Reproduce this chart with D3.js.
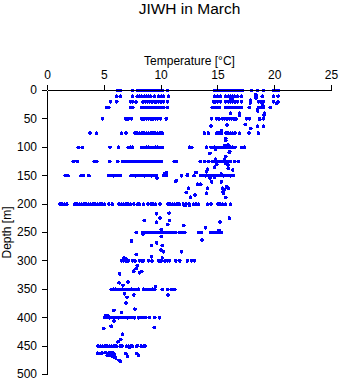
<!DOCTYPE html>
<html><head><meta charset="utf-8">
<script src="https://cdn.jsdelivr.net/npm/d3@7"></script>
<style>
body{margin:0;background:#fff;}
svg{display:block;font-family:"Liberation Sans",Arial,Helvetica,sans-serif;}
</style></head><body>
<svg id="chart" width="341" height="384"></svg>
<script>
const chartTitle = "JIWH in March";
const xLabel = "Temperature [°C]";
const yLabel = "Depth [m]";
const xTicks = [0, 5, 10, 15, 20, 25];
const yTicks = [0, 50, 100, 150, 200, 250, 300, 350, 400, 450, 500];

// standard sampling depths (m)
const depthLevels = [0, 10, 20, 30, 50, 75, 100, 125, 150, 200, 250, 300, 350, 400, 450];
// temperatures observed at each standard depth (°C)
const tempsAt0 = [6.2,6.4,7.5,7.9,8.1,8.3,8.5,8.7,8.9,9.1,9.3,9.5,9.7,9.9,10.1,10.6,14.7,14.9,15.1,15.3,15.5,15.7,15.9,16.1,16.3,16.5,16.7,16.9,17.2,18.0,18.45,19.0,19.9,20.1,20.3];
const tempsAt10 = [6.1,6.4,7.5,7.9,8.1,8.3,8.5,8.7,8.9,9.1,9.4,9.8,10.0,10.2,10.65,14.7,15.0,15.2,15.7,15.9,16.1,16.3,16.5,16.7,17.05,18.35,18.9,19.9,20.3];
const tempsAt20 = [5.55,6.1,7.3,7.5,7.8,8.4,8.6,8.8,9.0,9.2,9.4,9.55,9.8,10.0,10.2,10.55,14.6,14.75,15.0,15.2,15.7,15.9,16.1,16.3,16.5,16.7,17.1,17.85,18.6,18.8,19.0,19.9,20.3];
const tempsAt30 = [5.2,5.4,7.3,7.5,8.3,8.5,8.7,8.9,9.1,9.3,9.5,9.7,9.9,10.1,10.25,10.55,14.5,14.7,14.9,15.1,15.7,15.9,16.1,16.3,16.5,16.7,16.9,17.05,17.75,18.6,18.8,19.0,19.6];
const tempsAt50 = [4.85,6.9,7.1,7.4,8.3,8.5,8.7,8.9,9.1,9.3,9.5,9.7,9.95,10.45,14.45,14.9,15.1,15.4,15.6,15.8,16.0,16.2,16.4,16.6,17.5,17.8,18.65,19.0];
const tempsAt75 = [3.75,4.3,6.5,6.9,7.7,7.9,8.1,8.3,8.5,8.7,8.9,9.1,9.3,9.45,9.7,9.9,10.1,13.8,14.15,14.9,15.1,15.3,15.7,15.9,16.1,16.3,16.5,16.9,17.75,18.55];
const tempsAt100 = [2.7,3.05,5.5,6.25,7.1,7.3,7.5,8.3,8.5,8.7,8.9,9.1,9.3,9.5,9.7,9.9,10.1,12.5,12.7,14.0,14.4,14.7,14.9,15.1,15.3,15.5,15.7,15.9,16.1,16.3,16.5,17.1,17.35];
const tempsAt125 = [2.25,2.6,4.1,4.35,5.5,6.2,6.6,6.8,7.0,7.2,7.4,7.6,7.8,8.0,8.2,8.4,8.6,8.8,9.0,9.2,9.4,9.6,9.8,10.0,11.15,11.35,13.45,13.85,14.15,14.5,14.7,14.9,15.1,15.3,15.5,15.7,15.9,16.1,16.45,16.8];
const tempsAt150 = [1.55,1.8,2.95,3.15,3.65,5.4,5.6,5.8,6.0,6.2,6.4,7.35,7.55,7.75,7.95,8.15,8.35,8.55,8.75,8.95,9.15,9.35,9.6,10.2,10.45,11.8,12.3,12.9,13.5,13.7,13.9,14.1,14.3,14.5,14.7,14.9,15.1,15.3,15.5,15.7,15.9,16.1,16.35];
const tempsAt200 = [1.1,1.3,1.5,1.7,2.4,2.6,2.8,3.0,3.2,3.4,3.6,3.8,4.0,4.2,4.4,4.6,4.8,5.0,5.4,5.7,6.3,6.5,6.7,6.9,7.1,7.3,7.6,7.95,8.1,8.45,8.85,9.1,9.3,9.5,9.9,10.6,10.8,11.0,11.2,11.4,11.6,11.95,12.2,12.45,12.85,13.05,13.3,14.1,14.4,15.0,15.2,15.4,15.65,16.1];
const tempsAt250 = [7.8,8.4,8.6,8.8,9.0,9.2,9.4,9.6,9.8,10.0,10.2,10.4,10.6,10.8,11.1,11.3,11.6,11.8,12.1,13.3,13.55,14.35,14.6,14.85,15.1,15.3];
const tempsAt300 = [6.5,6.7,6.9,7.1,7.5,7.7,8.1,8.3,8.45,8.9,9.2,9.8,10.0,10.35,10.55,10.75,11.3,11.65,12.3,12.7,12.95];
const tempsAt350 = [5.6,5.8,6.0,6.2,6.4,6.6,6.8,7.0,7.2,7.4,7.6,7.8,8.0,8.45,8.65,8.85,9.05,9.25,9.45,10.1,10.6,10.95,11.2];
const tempsAt400 = [5.05,5.25,5.45,5.65,5.85,6.05,6.25,6.45,6.65,6.85,7.05,7.25,7.45,7.65,8.0,8.2,8.4,8.6,8.95,9.45,9.85];
const tempsAt450 = [4.45,4.65,4.85,5.05,5.25,5.45,5.65,5.85,6.05,6.4,6.55,6.95,7.15,7.35,7.5,7.85,8.25,8.45,8.6];
const tempsByLevel = [tempsAt0, tempsAt10, tempsAt20, tempsAt30, tempsAt50, tempsAt75, tempsAt100, tempsAt125, tempsAt150, tempsAt200, tempsAt250, tempsAt300, tempsAt350, tempsAt400, tempsAt450];

// observations at non-standard depths: [temperature °C, depth m]
const scatterPoints = [
  [16.1,13.5],[16.3,13.5],[18.35,7],[18.35,13],
  [17.85,17],[17.85,22],[18.95,24],[20.2,23],
  [18.95,26],[18.5,33],
  [16.1,40],[16.9,40],[16.9,44],[19.1,40],[18.5,36],[19.05,43],
  [14.4,62.6],[15.8,61],[17.4,59.6],[17.9,67],[18.5,63],[19.0,63],[18.7,51],
  [15.3,71],[15.7,85],
  [15.7,88],[15.9,96],[15.6,97],[14.8,104],[16.05,107.7],[14.3,110.5],[16.0,109],[15.7,116],
  [14.8,121],[14.9,130],[15.6,122],[15.7,128],[15.9,131],[14.7,135],[15.9,137],[14.1,138.6],[16.3,140],[13.1,144.5],[14.0,143],
  [9.65,154],[10.3,146],[10.5,145],[11.3,160],[13.05,144],[12.3,148.6],[14.7,153],[15.3,147],[14.3,154],
  [13.2,165],[13.5,165],[14.45,161],[15.3,161],[15.75,169],[15.9,172],[15.45,178],[14.1,172],[14.0,181],[12.4,172],[12.2,179.6],[13.0,184],[12.6,188],[15.7,188],[15.5,181],[11.35,159],[15.4,172],[15.6,175],
  [12.1,203],[12.5,202],
  [9.6,217],[10.7,216],[9.9,224.6],[8.5,228.8],[9.6,231.6],[10.75,229],[10.6,236],[12.0,238],[15.2,231.6],[16.0,224.6],[13.9,241.6],[15.1,246],
  [10.0,245],[8.4,252.6],
  [10.0,257],[13.6,263],[7.4,265],[9.6,268.5],[9.15,273],[10.1,273],[10.0,281],[10.2,284],[11.8,284],[7.8,289],[9.15,293],[10.1,295],
  [6.7,295],[6.9,296],
  [7.9,307.7],[7.8,313.5],[7.6,318],[8.3,319],[8.1,321],[6.35,323],[6.3,338.6],[7.1,337],[6.65,343],
  [9.5,345.6],
  [6.8,358],[7.0,364],[7.6,360],[10.6,360],[6.9,374],[5.85,387],[6.5,391],[7.7,385],
  [5.15,396],[5.35,397],[5.85,406],[4.95,419],[5.6,415],[9.4,417.6],[6.45,438],[6.6,429],
  [6.2,442.5],[7.2,452.7],[7.9,448.6],
  [4.4,462.6],[4.6,463],[4.8,462],[5.1,461],[5.3,463],[5.5,461],[5.7,462],[5.9,464],[5.25,466],[5.5,467],[5.75,468],[5.9,470],[6.0,471],[6.3,475],[6.4,477],[6.9,463],[7.05,468],[7.85,463],[8.0,466]
];

const points = [];
depthLevels.forEach((d, i) => tempsByLevel[i].forEach(t => points.push({t: t, d: d})));
scatterPoints.forEach(p => points.push({t: p[0], d: p[1]}));

const svg = d3.select("#chart");
const x = d3.scaleLinear().domain([0, 25]).range([47, 331]);
const y = d3.scaleLinear().domain([0, 500]).range([90, 374]);

svg.append("g")
  .selectAll("circle").data(points).join("circle")
  .attr("cx", p => x(p.t) + 0.5)
  .attr("cy", p => y(p.d) + 0.5)
  .attr("r", 1.85)
  .attr("fill", "#0000ff")
  .attr("shape-rendering", "crispEdges");

const xAxis = svg.append("g").attr("transform", "translate(0,90)")
  .call(d3.axisTop(x).tickValues(xTicks).tickSize(5).tickSizeOuter(0).tickPadding(6));
const yAxis = svg.append("g").attr("transform", "translate(47,0)")
  .call(d3.axisLeft(y).tickValues(yTicks).tickSize(5).tickSizeOuter(0).tickPadding(5));
[xAxis, yAxis].forEach(g => {
  g.selectAll("text").attr("font-size", 12).attr("font-family", "Liberation Sans, Arial, sans-serif").attr("fill", "#000");
  g.selectAll("line,path").attr("stroke", "#000").attr("shape-rendering", "crispEdges");
});

svg.append("text").attr("x", 189.5).attr("y", 13.5).attr("text-anchor", "middle")
  .attr("font-size", 15.5).attr("fill", "#000").text(chartTitle);
svg.append("text").attr("x", 189.5).attr("y", 65).attr("text-anchor", "middle")
  .attr("font-size", 12).attr("fill", "#000").text(xLabel);
svg.append("text").attr("transform", "translate(10.5,232.5) rotate(-90)").attr("text-anchor", "middle")
  .attr("font-size", 12).attr("fill", "#000").text(yLabel);
</script>
</body></html>
